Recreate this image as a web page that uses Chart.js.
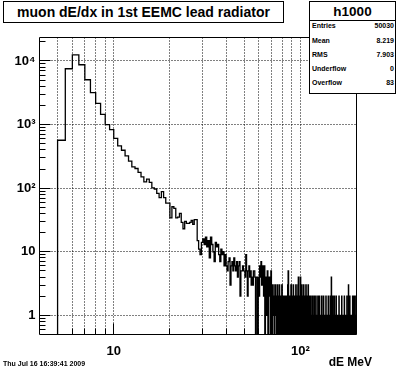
<!DOCTYPE html>
<html>
<head>
<meta charset="utf-8">
<script src="https://cdn.jsdelivr.net/npm/chart.js@4/dist/chart.umd.min.js"></script>
<style>
  body { margin: 0; background: #fff; }
  #wrap { position: relative; width: 396px; height: 372px; font-family: 'Liberation Sans', Arial, sans-serif; font-weight: bold; color: #000; }
  #wrap canvas { position: absolute; left: 0; top: 0; }
  .title { position: absolute; left: 3px; top: 1px; width: 279px; height: 20px; border: 1px solid #000; background: #fff;
           font-size: 14px; line-height: 21px; text-align: center; white-space: nowrap; }
  .stats { position: absolute; left: 309px; top: 1px; width: 85px; height: 91px; border: 1px solid #000; background: #fff; }
  .stats .head { position: absolute; left: 0; top: 0; width: 85px; height: 18px; border-bottom: 1px solid #000;
                 font-size: 13.5px; line-height: 19px; text-align: center; }
  .stats .row { position: absolute; left: 2px; width: 82px; height: 10px; font-size: 7px; line-height: 10px; }
  .stats .row span { position: absolute; right: 0; }
  .date { position: absolute; left: 3px; top: 359px; font-size: 7px; line-height: 10px; white-space: nowrap; }
  .xtitle { position: absolute; right: 24px; top: 355px; font-size: 12px; line-height: 14px; white-space: nowrap; }
</style>
</head>
<body>
<div id="wrap">
  <canvas id="h1000" width="396" height="372"></canvas>
  <div class="title" id="title"></div>
  <div class="stats" id="stats"></div>
  <div class="date" id="date"></div>
  <div class="xtitle" id="xtitle"></div>
</div>
<script>
// histogramme h1000 : bins de 0.5 MeV a partir de 5 MeV
const binStart = 5;
const binWidth = 0.5;
const counts = [
  567, 7550, 12500, 8720, 5070, 3170, 2160, 1450, 1000, 833,   // 5-10
  605, 462, 395, 322, 266, 216, 204, 177, 151, 126,             // 10-15
  139, 123, 101, 97, 83, 71, 88, 71, 58, 58,                    // 15-20
  34, 51, 48, 34, 35, 40, 29, 23, 30, 28,                       // 20-25
  28, 29, 31, 27, 32, 32, 15, 11, 9, 14,                        // 25-30
  16, 13, 17, 12, 15, 8, 17, 13, 10, 7,                         // 30-35
  14, 12, 13, 9, 7, 11, 9, 10, 6, 9,                            // 35-40
  6, 5, 7, 8, 3, 6, 7, 5, 8, 6,                                 // 40-45
  5, 7, 4, 6, 7, 2, 5, 5, 6, 5,                                 // 45-50
  5, 4, 9, 5, 2, 5, 6, 4, 5, 3,                                 // 50-55
  4, 3, 5, 5, 4, 0, 4, 4, 0, 4,                                 // 55-60
  2, 6, 4, 7, 3, 6, 5, 2, 6, 0,                                 // 60-65
  4, 1, 3, 5, 0, 2, 4, 3, 0, 5,                                 // 65-70
  2, 0, 3, 1, 2, 0, 3, 2, 1, 0,                                 // 70-75
  3, 1, 0, 2, 3, 0, 1, 2, 0, 3,                                 // 75-80
  2, 0, 1, 2, 0, 2, 1, 0, 2, 1,                                 // 80-85
  0, 3, 5, 0, 1, 2, 0, 1, 3, 0,                                 // 85-90
  2, 1, 0, 3, 0, 1, 2, 0, 1, 3,                                 // 90-95
  0, 2, 1, 0, 3, 4, 0, 2, 1, 0,                                 // 95-100
  4, 0, 2, 3, 0, 1, 2, 0, 3, 1,                                 // 100-105
  0, 2, 0, 1, 3, 0, 2, 1, 0, 2,                                 // 105-110
  3, 0, 1, 2, 0, 1, 0, 2, 1, 0,                                 // 110-115
  1, 0, 2, 0, 1, 1, 0, 2, 0, 1,                                 // 115-120
  0, 1, 2, 0, 1, 0, 1, 0, 2, 1,                                 // 120-125
  0, 1, 0, 2, 0, 1, 1, 0, 1, 0,                                 // 125-130
  2, 0, 1, 0, 1, 0, 2, 1, 0, 1,                                 // 130-135
  0, 1, 0, 1, 2, 0, 1, 0, 1, 0,                                 // 135-140
  1, 0, 2, 0, 1, 0, 1, 1, 0, 2,                                 // 140-145
  0, 1, 0, 4, 0, 1, 0, 1, 2, 0,                                 // 145-150
  1, 0, 1, 0, 2, 0, 1, 0, 1, 0,                                 // 150-155
  1, 2, 0, 1, 0, 1, 0, 0, 1, 0,                                 // 155-160
  1, 0, 2, 1, 0, 1, 0, 1, 0, 1,                                 // 160-165
  0, 1, 0, 2, 0, 1, 1, 0, 0, 1,                                 // 165-170
  0, 1, 0, 1, 2, 0, 1, 0, 1, 0,                                 // 170-175
  1, 0, 0, 1, 0, 2, 0, 1, 0, 1,                                 // 175-180
  0, 1, 3, 0, 1, 0, 1, 0, 2, 0,                                 // 180-185
  1, 0, 1, 0, 0, 1, 0, 1, 0, 1,                                 // 185-190
  0, 2, 0, 1, 0, 1, 0, 2, 0, 1,                                 // 190-195
  0, 1, 0, 2, 0, 1, 0, 1, 0, 1                                  // 195-200
];

const xRange = [4, 200];
const yRange = [0.5, 23400];
const xTickValues = [10, 100];
const xTickLabels = ['10', '10²'];
const yTickValues = [1, 10, 100, 1000, 10000];
const yTickLabels = ['1', '10', '10²', '10³', '10⁴'];
const xGridValues = [5, 6, 7, 8, 9, 10, 20, 30, 40, 50, 60, 70, 80, 90, 100];

const titleText = 'muon dE/dx in 1st EEMC lead radiator';
const histName = 'h1000';
const statLabels = ['Entries', 'Mean', 'RMS', 'Underflow', 'Overflow'];
const statValues = ['50030', '8.219', '7.903', '0', '83'];
const xAxisTitle = 'dE MeV';
const dateText = 'Thu Jul 16 16:39:41 2009';

// textes autour du cadre
document.getElementById('title').textContent = titleText;
document.getElementById('date').textContent = dateText;
document.getElementById('xtitle').textContent = xAxisTitle;
const stats = document.getElementById('stats');
const head = document.createElement('div');
head.className = 'head';
head.textContent = histName;
stats.appendChild(head);
const rowTops = [19, 33.5, 47.5, 61.5, 76];
statLabels.forEach((lab, i) => {
  const row = document.createElement('div');
  row.className = 'row';
  row.style.top = rowTops[i] + 'px';
  row.textContent = lab;
  const val = document.createElement('span');
  val.textContent = statValues[i];
  row.appendChild(val);
  stats.appendChild(row);
});

// points du contour (bord gauche de chaque bin), les bins vides tombent au bas du cadre
const points = [{ x: binStart, y: yRange[0] }];
counts.forEach((c, i) => {
  points.push({ x: binStart + i * binWidth, y: c > 0 ? c : yRange[0] });
});
const lastCount = counts[counts.length - 1];
points.push({ x: binStart + counts.length * binWidth, y: lastCount > 0 ? lastCount : yRange[0] });

// cadre, grille pointillee et graduations interieures facon ROOT
const rootFrame = {
  id: 'rootFrame',
  beforeDatasetsDraw(chart) {
    const { ctx, chartArea: a, scales: { x, y } } = chart;
    ctx.save();
    ctx.strokeStyle = '#000';
    ctx.lineWidth = 1;
    ctx.setLineDash([1, 2]);
    ctx.beginPath();
    xGridValues.forEach(v => {
      const px = Math.floor(x.getPixelForValue(v)) + 0.5;
      ctx.moveTo(px, a.top);
      ctx.lineTo(px, a.bottom);
    });
    yTickValues.forEach(v => {
      const py = Math.floor(y.getPixelForValue(v)) + 0.5;
      ctx.moveTo(a.left, py);
      ctx.lineTo(a.right, py);
    });
    ctx.stroke();
    ctx.restore();
  },
  afterDatasetsDraw(chart) {
    const { ctx, chartArea: a, scales: { x, y } } = chart;
    ctx.save();
    ctx.strokeStyle = '#000';
    ctx.lineWidth = 1;
    ctx.beginPath();
    ctx.rect(a.left, a.top, a.right - a.left, a.bottom - a.top);
    // axe x
    xGridValues.forEach(v => {
      const px = Math.floor(x.getPixelForValue(v)) + 0.5;
      const len = xTickValues.includes(v) ? 11 : 6;
      ctx.moveTo(px, a.bottom);
      ctx.lineTo(px, a.bottom - len);
    });
    // axe y
    [0.1, 1, 10, 100, 1000, 10000].forEach(d => {
      for (let k = 1; k <= 9; k++) {
        const v = d * k;
        if (v <= yRange[0] || v >= yRange[1]) continue;
        const py = Math.floor(y.getPixelForValue(v)) + 0.5;
        const len = k === 1 ? 11 : 6;
        ctx.moveTo(a.left, py);
        ctx.lineTo(a.left + len, py);
      }
    });
    ctx.stroke();
    ctx.restore();
  }
};

const tickFont = { family: "'Liberation Sans', Arial, sans-serif", size: 13, weight: 'bold' };

new Chart(document.getElementById('h1000'), {
  type: 'line',
  data: {
    datasets: [{
      label: histName,
      data: points,
      stepped: 'before',
      borderColor: '#000',
      borderWidth: 1.3,
      pointRadius: 0,
      fill: false
    }]
  },
  options: {
    responsive: false,
    animation: false,
    layout: { padding: { left: 0, right: 39.5, top: 37.5, bottom: 0 } },
    plugins: { legend: { display: false }, tooltip: { enabled: false }, title: { display: false } },
    scales: {
      x: {
        type: 'logarithmic',
        min: xRange[0],
        max: xRange[1],
        afterBuildTicks: s => { s.ticks = xTickValues.map(v => ({ value: v })); },
        afterFit: s => { s.height = 372 - 334.5; },
        grid: { display: false, drawTicks: false },
        border: { display: false },
        ticks: { autoSkip: false, maxRotation: 0, padding: 9, color: '#000', font: tickFont,
                 callback: (v, i) => xTickLabels[i] }
      },
      y: {
        type: 'logarithmic',
        min: yRange[0],
        max: yRange[1],
        afterBuildTicks: s => { s.ticks = yTickValues.map(v => ({ value: v })); },
        afterFit: s => { s.width = 39.5; },
        grid: { display: false, drawTicks: false },
        border: { display: false },
        ticks: { autoSkip: false, padding: 4, color: '#000', font: tickFont,
                 callback: (v, i) => yTickLabels[i] }
      }
    }
  },
  plugins: [rootFrame]
});
</script>
</body>
</html>
